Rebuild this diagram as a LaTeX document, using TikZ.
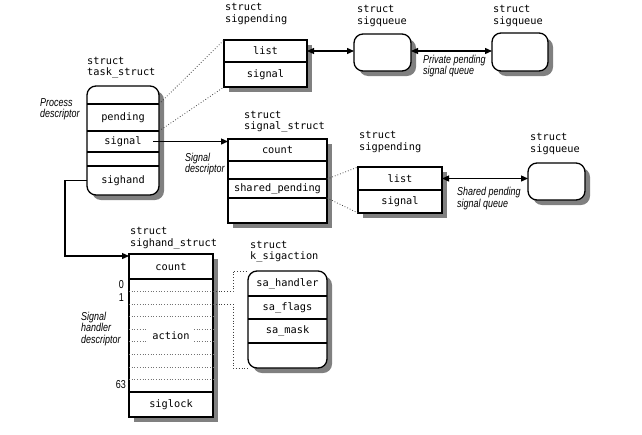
\documentclass[tikz,border=0pt]{standalone}
\usepackage{fontspec}
\setmonofont{DejaVu Sans Mono}
\newfontfamily\notefont[FakeStretch=0.78]{Liberation Sans}
\usetikzlibrary{%
  positioning
 ,arrows.meta
}
\tikzstyle{box}=[draw,line width=1.3pt,fill=white,inner sep=0pt,outer sep=0pt]
\tikzstyle{rbox}=[box,rounded corners=9pt]
\tikzstyle{shd}=[fill=black!50,draw=none]
\tikzstyle{fld}=[inner sep=0pt,outer sep=0pt,font=\fontsize{10.3}{12}\ttfamily]
\tikzstyle{lbl}=[anchor=west,align=left,inner sep=0pt,font=\fontsize{10.3}{11.5}\ttfamily]
\tikzstyle{note}=[anchor=west,align=left,inner sep=0pt,font=\fontsize{11.5}{11.5}\notefont\itshape]
\tikzstyle{idx}=[anchor=east,inner sep=0pt,font=\fontsize{11.5}{11.5}\notefont]
\tikzstyle{ptr}=[line width=1.3pt,-{Triangle[length=7pt,width=6pt]}]
\tikzstyle{dptr}=[line width=1.3pt,{Triangle[length=7pt,width=6pt]}-{Triangle[length=7pt,width=6pt]}]
\tikzstyle{link}=[dotted,line width=0.8pt,black!75]
\tikzstyle{slot}=[dotted,line width=0.7pt,black!55]
\tikzstyle{sep}=[line width=1.3pt]

\begin{document}
\begin{tikzpicture}[x=1pt,y=-1pt]
  \useasboundingbox (0,0) rectangle (642,434);

  % shadows
  \foreach \xa/\ya/\xb/\yb in {229/45/312/92,233/144/332/228,363/172/447/218,134/259/218/422}
    \fill[shd] (\xa,\ya) rectangle (\xb,\yb);
  \foreach \xa/\ya/\xb/\yb in {92/91/164/200,359/39/416/76,497/38/553/76,533/168/590/205,253/276/332/373}
    \fill[shd,rounded corners=9pt] (\xa,\ya) rectangle (\xb,\yb);

  % task_struct
  \node[lbl] (task-l) at (87,67.5) {struct\\task\_struct};
  \node[rbox,minimum width=72pt,minimum height=109pt] (task) at (123,140.5) {};
  \node[fld,minimum width=72pt,minimum height=18pt,below=0pt of task.north] (t0) {};
  \node[fld,minimum width=72pt,minimum height=27pt,below=0pt of t0] (t1) {pending};
  \node[fld,minimum width=72pt,minimum height=21pt,below=0pt of t1] (t2) {signal};
  \node[fld,minimum width=72pt,minimum height=14pt,below=0pt of t2] (t3) {};
  \node[fld,minimum width=72pt,minimum height=29pt,below=0pt of t3] (t4) {sighand};
  \foreach \c in {t1,t2,t3,t4}
    \draw[sep] (\c.north west) -- (\c.north east);
  \node[note] (task-n) at (40,109) {Process\\descriptor};

  % private sigpending
  \node[lbl] (pend1-l) at (225,14) {struct\\sigpending};
  \node[box,minimum width=83pt,minimum height=47pt] (pend1) at (265.5,63.5) {};
  \node[fld,minimum width=83pt,minimum height=22pt,below=0pt of pend1.north] (p1a) {list};
  \node[fld,minimum width=83pt,minimum height=25pt,below=0pt of p1a] (p1b) {signal};
  \draw[sep] (p1b.north west) -- (p1b.north east);

  % private sigqueue
  \node[lbl] (queue1-l) at (357,16) {struct\\sigqueue};
  \node[rbox,minimum width=57pt,minimum height=37pt] (queue1) at (382.5,52.5) {};
  \node[lbl] (queue2-l) at (493,16) {struct\\sigqueue};
  \node[rbox,minimum width=56pt,minimum height=38pt] (queue2) at (520,52) {};
  \node[note] (queue-n) at (423,66) {Private pending\\signal queue};

  % signal_struct
  \node[lbl] (sig-l) at (244,121.5) {struct\\signal\_struct};
  \node[box,minimum width=99pt,minimum height=84pt] (sig) at (277.5,181) {};
  \node[fld,minimum width=99pt,minimum height=22pt,below=0pt of sig.north] (s0) {count};
  \node[fld,minimum width=99pt,minimum height=18pt,below=0pt of s0] (s1) {};
  \node[fld,minimum width=99pt,minimum height=19pt,below=0pt of s1] (s2) {shared\_pending};
  \node[fld,minimum width=99pt,minimum height=25pt,below=0pt of s2] (s3) {};
  \foreach \c in {s1,s2,s3}
    \draw[sep] (\c.north west) -- (\c.north east);
  \node[note] (sig-n) at (185,164) {Signal\\descriptor};

  % shared sigpending
  \node[lbl] (pend2-l) at (359,142) {struct\\sigpending};
  \node[box,minimum width=84pt,minimum height=46pt] (pend2) at (400,190) {};
  \node[fld,minimum width=84pt,minimum height=23pt,below=0pt of pend2.north] (p2a) {list};
  \node[fld,minimum width=84pt,minimum height=23pt,below=0pt of p2a] (p2b) {signal};
  \draw[sep] (p2b.north west) -- (p2b.north east);

  % shared sigqueue
  \node[lbl] (queue3-l) at (530,144) {struct\\sigqueue};
  \node[rbox,minimum width=57pt,minimum height=37pt] (queue3) at (556.5,181.5) {};
  \node[note] (shared-n) at (457,198.5) {Shared pending\\signal queue};

  % sighand_struct
  \node[lbl] (hand-l) at (130,238) {struct\\sighand\_struct};
  \node[box,minimum width=84pt,minimum height=163pt] (hand) at (171,335.5) {};
  \node[fld,minimum width=84pt,minimum height=25pt,below=0pt of hand.north] (h0) {count};
  \node[fld,minimum width=84pt,minimum height=113pt,below=0pt of h0] (h1) {};
  \node[fld,minimum width=84pt,minimum height=25pt,below=0pt of h1] (h2) {siglock};
  \foreach \c in {h1,h2}
    \draw[sep] (\c.north west) -- (\c.north east);
  \foreach \k in {1,...,8}
    \draw[slot] (h1.west |- 0,279+\k*12.55) -- (h1.east |- 0,279+\k*12.55);
  \node[fld,fill=white,inner xsep=4pt,inner ysep=4pt] (act) at (h1) {action};
  \node[idx] (i0) at (124,285) {0};
  \node[idx] (i1) at (124,297.5) {1};
  \node[idx] (i63) at (126,385) {63};
  \node[note] (hand-n) at (81,329) {Signal\\handler\\descriptor};

  % k_sigaction
  \node[lbl] (act-l) at (250,251.5) {struct\\k\_sigaction};
  \node[rbox,minimum width=79pt,minimum height=97pt] (ksig) at (287.5,319.5) {};
  \node[fld,minimum width=79pt,minimum height=25pt,below=0pt of ksig.north] (k0) {sa\_handler};
  \node[fld,minimum width=79pt,minimum height=23pt,below=0pt of k0] (k1) {sa\_flags};
  \node[fld,minimum width=79pt,minimum height=24pt,below=0pt of k1] (k2) {sa\_mask};
  \node[fld,minimum width=79pt,minimum height=25pt,below=0pt of k2] (k3) {};
  \foreach \c in {k1,k2,k3}
    \draw[sep] (\c.north west) -- (\c.north east);

  % pointers
  \coordinate (sigptr) at (153,141.5);
  \coordinate (handin) at (129,256);
  \draw[ptr] (sigptr) -- (sigptr -| sig.west);
  \draw[ptr] (t4.west) -- ++(-22,0) |- (handin);
  \draw[dptr] (p1a.center -| pend1.east) -- (p1a.center -| queue1.west);
  \draw[dptr] (p1a.center -| queue1.east) -- (p1a.center -| queue2.west);
  \draw[dptr] (p2a.center -| pend2.east) -- (p2a.center -| queue3.west);

  % dotted links
  \coordinate (slot0) at (213,291.55);
  \coordinate (slot1) at (213,304.1);
  \draw[link] (t1.north east) -- (pend1.north west);
  \draw[link] (t2.north east) -- (pend1.south west);
  \draw[link] (s2.north east) -- (pend2.north west);
  \draw[link] (s2.south east) -- (pend2.south west);
  \draw[link] (slot0) -- ++(20,0) |- (ksig.north west);
  \draw[link] (slot1) -- ++(20,0) |- (ksig.south west);
\end{tikzpicture}
\end{document}
